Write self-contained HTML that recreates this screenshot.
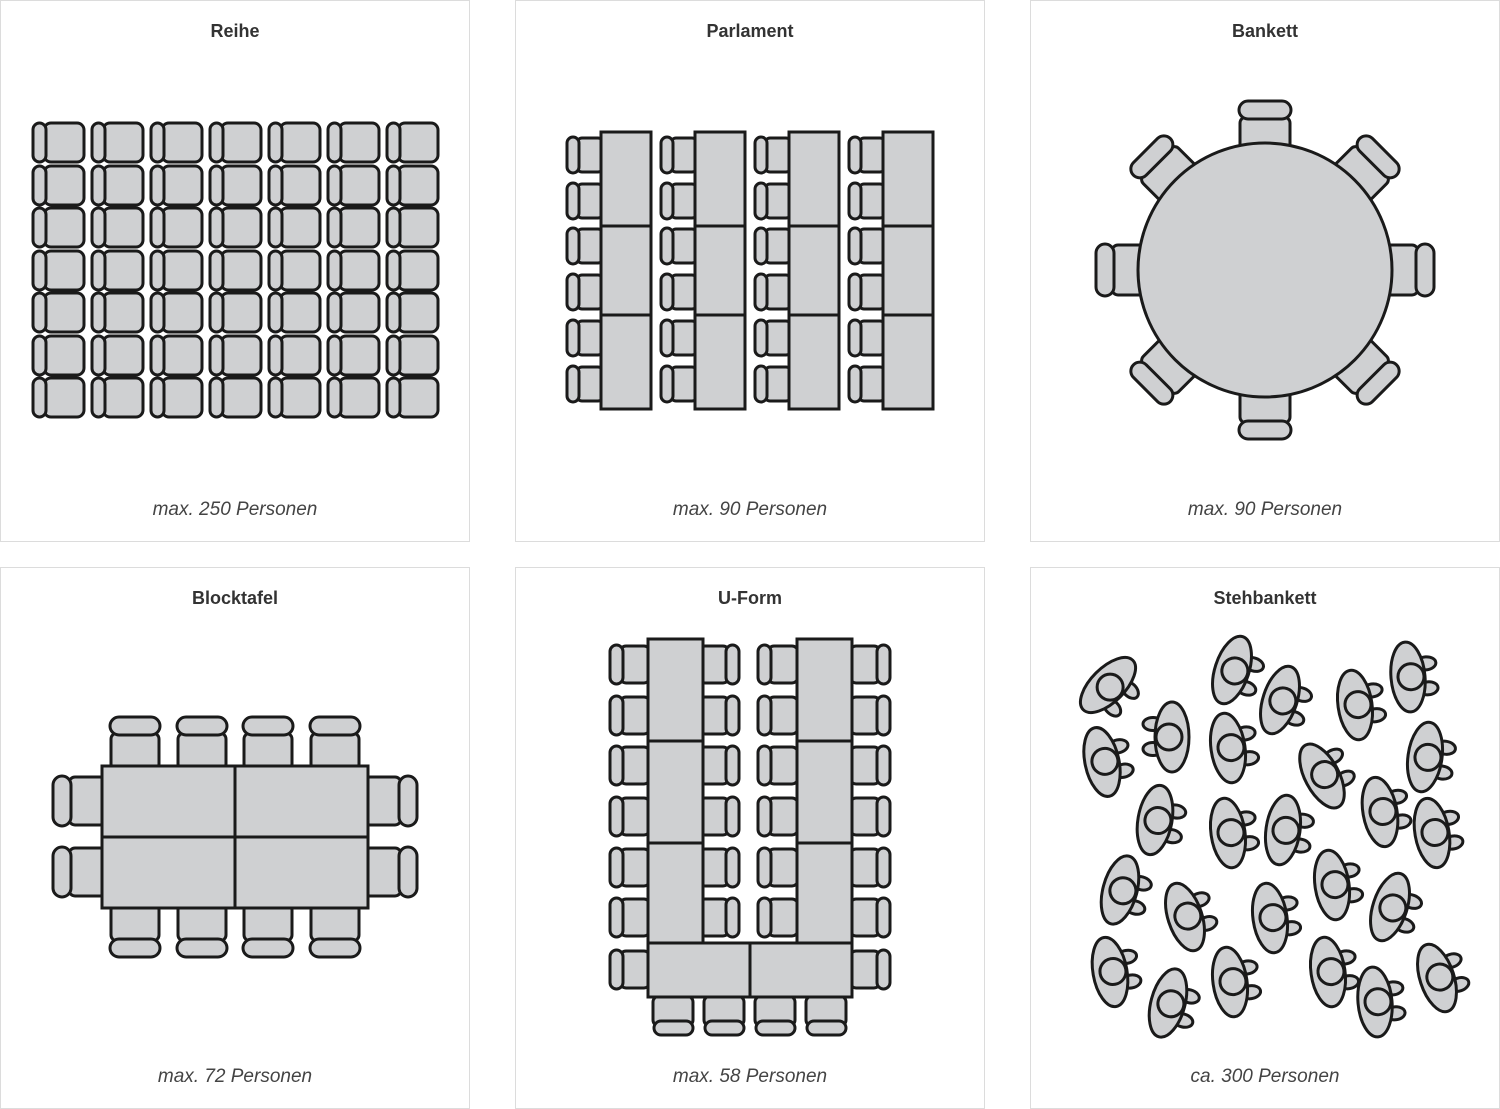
<!DOCTYPE html>
<html><head><meta charset="utf-8"><style>
html,body{margin:0;padding:0;background:#fff;width:1500px;height:1109px;overflow:hidden}
.p{position:absolute;border:1px solid #dcdcdc;box-sizing:border-box;width:470px;height:542px}
.t{position:absolute;left:0;right:0;top:20px;text-align:center;font:bold 18px "Liberation Sans",sans-serif;color:#333}
.c{position:absolute;left:0;right:0;top:498px;text-align:center;font:italic 19px "Liberation Sans",sans-serif;color:#444}
svg{position:absolute;left:0;top:0}
</style></head><body>
<div class="p" style="left:0;top:0"><div class="t">Reihe</div><div class="c">max. 250 Personen</div></div>
<div class="p" style="left:515px;top:0"><div class="t">Parlament</div><div class="c">max. 90 Personen</div></div>
<div class="p" style="left:1030px;top:0"><div class="t">Bankett</div><div class="c">max. 90 Personen</div></div>
<div class="p" style="left:0;top:567px"><div class="t">Blocktafel</div><div class="c">max. 72 Personen</div></div>
<div class="p" style="left:515px;top:567px"><div class="t">U-Form</div><div class="c">max. 58 Personen</div></div>
<div class="p" style="left:1030px;top:567px"><div class="t">Stehbankett</div><div class="c">ca. 300 Personen</div></div>
<svg width="1500" height="1109" viewBox="0 0 1500 1109">
<defs>
<g id="rc"><rect x="11" y="0" width="40" height="39" rx="7"/><rect x="0" y="0" width="13" height="39" rx="6.5"/></g>
<g id="row"><use href="#rc" x="33"/><use href="#rc" x="92"/><use href="#rc" x="151"/><use href="#rc" x="210"/><use href="#rc" x="269"/><use href="#rc" x="328"/><use href="#rc" x="387"/></g>
<g id="pc"><rect x="10" y="1" width="26" height="34" rx="5"/><rect x="0" y="0" width="12" height="36" rx="6"/></g>
<g id="pcol"><use href="#pc" y="137"/><use href="#pc" y="183"/><use href="#pc" y="228"/><use href="#pc" y="274"/><use href="#pc" y="320"/><use href="#pc" y="366"/>
<rect x="34" y="132" width="50" height="277" rx="0"/><line x1="34" y1="226" x2="84" y2="226"/><line x1="34" y1="315" x2="84" y2="315"/></g>
<g id="bk"><rect x="-25" y="-153" width="50" height="36" rx="6"/><rect x="-26" y="-169" width="52" height="18" rx="9"/></g>
<g id="bc"><rect x="-24" y="16" width="48" height="37" rx="6"/><rect x="-25" y="0" width="50" height="18" rx="9"/></g>
<g id="uc"><rect x="10" y="1" width="30" height="37" rx="6"/><rect x="0" y="0" width="13" height="39" rx="6.5"/></g>
<g id="ub"><rect x="-20" y="0" width="40" height="30" rx="6"/><rect x="-19" y="25" width="39" height="14" rx="7"/></g>
<g id="ps"><ellipse cx="19" cy="-12" rx="10" ry="6.5"/><ellipse cx="19" cy="13" rx="10" ry="6.5"/><ellipse cx="0" cy="0" rx="17" ry="35"/><circle cx="3" cy="0" r="13" fill="none"/></g>
</defs>
<g fill="#cfd0d2" stroke="#1a1a1a" stroke-width="3">
<use href="#row" y="123"/><use href="#row" y="166"/><use href="#row" y="208"/><use href="#row" y="251"/><use href="#row" y="293"/><use href="#row" y="336"/><use href="#row" y="378"/>

<use href="#pcol" x="567"/><use href="#pcol" x="661"/><use href="#pcol" x="755"/><use href="#pcol" x="849"/>

<g transform="translate(1265,270)">
<use href="#bk"/><use href="#bk" transform="rotate(45)"/><use href="#bk" transform="rotate(90)"/><use href="#bk" transform="rotate(135)"/><use href="#bk" transform="rotate(180)"/><use href="#bk" transform="rotate(225)"/><use href="#bk" transform="rotate(270)"/><use href="#bk" transform="rotate(315)"/>
<circle r="127"/></g>

<use href="#bc" x="135" y="717"/><use href="#bc" x="202" y="717"/><use href="#bc" x="268" y="717"/><use href="#bc" x="335" y="717"/>
<g transform="translate(0,1674) scale(1,-1)"><use href="#bc" x="135" y="717"/><use href="#bc" x="202" y="717"/><use href="#bc" x="268" y="717"/><use href="#bc" x="335" y="717"/></g>
<g transform="translate(53,801) rotate(-90)"><use href="#bc"/></g>
<g transform="translate(53,872) rotate(-90)"><use href="#bc"/></g>
<g transform="translate(417,801) rotate(90)"><use href="#bc"/></g>
<g transform="translate(417,872) rotate(90)"><use href="#bc"/></g>
<rect x="102" y="766" width="266" height="142"/><line x1="235" y1="766" x2="235" y2="908"/><line x1="102" y1="837" x2="368" y2="837"/>

<use href="#uc" x="610" y="645"/><use href="#uc" x="610" y="696"/><use href="#uc" x="610" y="746"/><use href="#uc" x="610" y="797"/><use href="#uc" x="610" y="848"/><use href="#uc" x="610" y="898"/><use href="#uc" x="610" y="950"/>
<g transform="translate(1349,0) scale(-1,1)"><use href="#uc" x="610" y="645"/><use href="#uc" x="610" y="696"/><use href="#uc" x="610" y="746"/><use href="#uc" x="610" y="797"/><use href="#uc" x="610" y="848"/><use href="#uc" x="610" y="898"/></g>
<use href="#uc" x="758" y="645"/><use href="#uc" x="758" y="696"/><use href="#uc" x="758" y="746"/><use href="#uc" x="758" y="797"/><use href="#uc" x="758" y="848"/><use href="#uc" x="758" y="898"/>
<g transform="translate(1500,0) scale(-1,1)"><use href="#uc" x="610" y="645"/><use href="#uc" x="610" y="696"/><use href="#uc" x="610" y="746"/><use href="#uc" x="610" y="797"/><use href="#uc" x="610" y="848"/><use href="#uc" x="610" y="898"/><use href="#uc" x="610" y="950"/></g>
<use href="#ub" x="673" y="996"/><use href="#ub" x="724" y="996"/><use href="#ub" x="775" y="996"/><use href="#ub" x="826" y="996"/>
<rect x="648" y="639" width="55" height="304"/><line x1="648" y1="741" x2="703" y2="741"/><line x1="648" y1="843" x2="703" y2="843"/>
<rect x="797" y="639" width="55" height="304"/><line x1="797" y1="741" x2="852" y2="741"/><line x1="797" y1="843" x2="852" y2="843"/>
<rect x="648" y="943" width="204" height="54"/><line x1="750" y1="943" x2="750" y2="997"/>

<use href="#ps" transform="translate(1108,685) rotate(45)"/>
<use href="#ps" transform="translate(1232,670) rotate(18)"/>
<use href="#ps" transform="translate(1280,700) rotate(18)"/>
<use href="#ps" transform="translate(1355,705) rotate(-8)"/>
<use href="#ps" transform="translate(1408,677) rotate(-5)"/>
<use href="#ps" transform="translate(1172,737) rotate(180)"/>
<use href="#ps" transform="translate(1102,762) rotate(-12)"/>
<use href="#ps" transform="translate(1228,748) rotate(-8)"/>
<use href="#ps" transform="translate(1322,776) rotate(-28)"/>
<use href="#ps" transform="translate(1425,757) rotate(8)"/>
<use href="#ps" transform="translate(1155,820) rotate(10)"/>
<use href="#ps" transform="translate(1228,833) rotate(-8)"/>
<use href="#ps" transform="translate(1283,830) rotate(8)"/>
<use href="#ps" transform="translate(1380,812) rotate(-10)"/>
<use href="#ps" transform="translate(1432,833) rotate(-10)"/>
<use href="#ps" transform="translate(1120,890) rotate(15)"/>
<use href="#ps" transform="translate(1185,917) rotate(-18)"/>
<use href="#ps" transform="translate(1332,885) rotate(-8)"/>
<use href="#ps" transform="translate(1270,918) rotate(-8)"/>
<use href="#ps" transform="translate(1390,907) rotate(18)"/>
<use href="#ps" transform="translate(1110,972) rotate(-10)"/>
<use href="#ps" transform="translate(1168,1003) rotate(15)"/>
<use href="#ps" transform="translate(1230,982) rotate(-8)"/>
<use href="#ps" transform="translate(1328,972) rotate(-8)"/>
<use href="#ps" transform="translate(1375,1002) rotate(-5)"/>
<use href="#ps" transform="translate(1437,978) rotate(-18)"/>
</g>
</svg>
</body></html>
